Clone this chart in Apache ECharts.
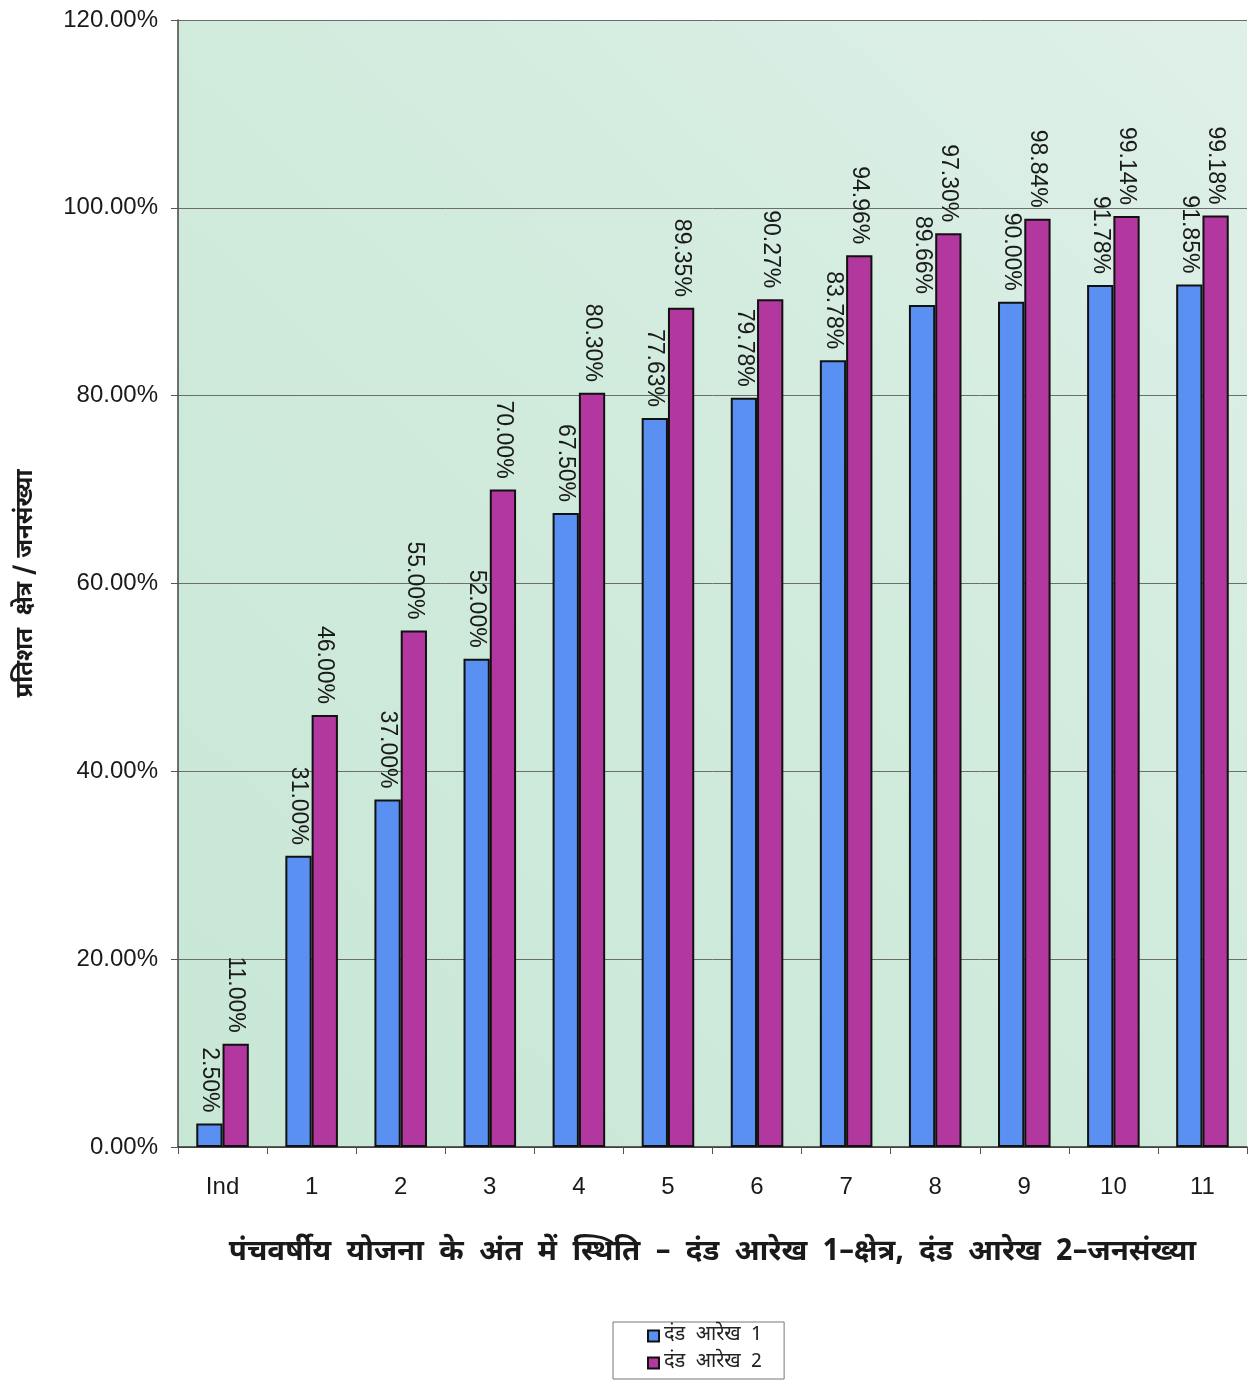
<!DOCTYPE html>
<html>
<head>
<meta charset="utf-8">
<script src="https://cdn.jsdelivr.net/npm/echarts@6/dist/echarts.min.js"></script>
<style>
  html, body { margin: 0; padding: 0; background: #ffffff; }
  #chart { width: 1255px; height: 1381px; }
</style>
</head>
<body>
<div id="chart"></div>
<script>
// Plan periods (Ind + five-year plans 1..11)
const categories = ['Ind', '1', '2', '3', '4', '5', '6', '7', '8', '9', '10', '11'];
// Bar diagram 1 – area (%)
const areaValues = [2.50, 31.00, 37.00, 52.00, 67.50, 77.63, 79.78, 83.78, 89.66, 90.00, 91.78, 91.85];
// Bar diagram 2 – population (%)
const populationValues = [11.00, 46.00, 55.00, 70.00, 80.30, 89.35, 90.27, 94.96, 97.30, 98.84, 99.14, 99.18];
const seriesNames = ['दंड आरेख 1', 'दंड आरेख 2'];
const yTitle = 'प्रतिशत  क्षेत्र / जनसंख्या';
const xTitle = 'पंचवर्षीय योजना के अंत में स्थिति – दंड आरेख 1–क्षेत्र, दंड आरेख 2–जनसंख्या';

const latin = '"Liberation Sans", Arial, Helvetica, sans-serif';
const deva = '"Noto Sans Devanagari", "Lohit Devanagari", "Noto Sans", "Liberation Sans", sans-serif';

const pct = v => Number(v).toFixed(2) + '%';
// wider word spacing for the Devanagari captions
const spaced = s => s.replace(/ /g, '  ');

const valueLabel = {
  show: true,
  position: 'top',
  distance: 11,
  rotate: -90,
  align: 'right',
  verticalAlign: 'middle',
  color: '#1a1a1a',
  fontFamily: latin,
  fontSize: 23,
  formatter: p => pct(p.value)
};

const chart = echarts.init(document.getElementById('chart'));
chart.setOption({
  backgroundColor: '#ffffff',
  animation: false,
  grid: {
    left: 178, right: 8, top: 20, bottom: 234,
    show: true,
    borderWidth: 0,
    backgroundColor: {
      type: 'linear', x: 0, y: 1, x2: 1, y2: 0,
      colorStops: [
        { offset: 0, color: '#c8e7d5' },
        { offset: 0.55, color: '#d1ebdd' },
        { offset: 1, color: '#dff0e9' }
      ]
    }
  },
  legend: {
    orient: 'vertical',
    left: 613,
    top: 1322,
    padding: [4, 22, 6, 34],
    itemGap: 7,
    itemWidth: 11,
    itemHeight: 11,
    borderColor: '#777',
    borderWidth: 1,
    backgroundColor: '#ffffff',
    icon: 'rect',
    textStyle: { fontFamily: deva, fontSize: 20, color: '#222' },
    formatter: name => spaced(name),
    data: seriesNames
  },
  xAxis: {
    type: 'category',
    data: categories,
    name: spaced(xTitle),
    nameLocation: 'middle',
    nameGap: 92,
    nameTextStyle: { fontFamily: deva, fontSize: 29.5, fontWeight: 'bold', color: '#1a1a1a' },
    axisLine: { show: true, lineStyle: { color: '#333', width: 1.5 } },
    axisTick: { show: true, length: 7, inside: false, lineStyle: { color: '#555' } },
    axisLabel: { fontFamily: latin, fontSize: 24, color: '#1a1a1a', margin: 28 }
  },
  yAxis: {
    type: 'value',
    min: 0,
    max: 120,
    interval: 20,
    name: yTitle,
    nameLocation: 'middle',
    nameGap: 138,
    nameTextStyle: { fontFamily: deva, fontSize: 24, fontWeight: 'bold', color: '#1a1a1a' },
    axisLine: { show: true, lineStyle: { color: '#444', width: 1.5 } },
    axisTick: { show: true, length: 7, lineStyle: { color: '#555' } },
    axisLabel: { fontFamily: latin, fontSize: 24, color: '#1a1a1a', margin: 20, formatter: v => pct(v) },
    splitLine: { show: true, lineStyle: { color: '#6a6f6c', width: 1 } }
  },
  series: [
    {
      name: seriesNames[0],
      type: 'bar',
      data: areaValues,
      barGap: '0%',
      barCategoryGap: '41%',
      itemStyle: { color: '#5a90f2', borderColor: '#111', borderWidth: 2 },
      label: valueLabel
    },
    {
      name: seriesNames[1],
      type: 'bar',
      data: populationValues,
      itemStyle: { color: '#b2379f', borderColor: '#111', borderWidth: 2 },
      label: valueLabel
    }
  ]
});
</script>
</body>
</html>
